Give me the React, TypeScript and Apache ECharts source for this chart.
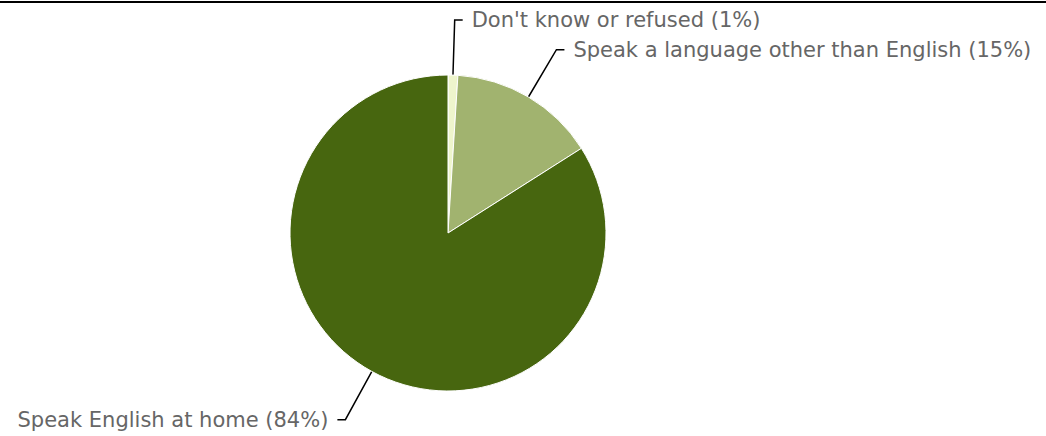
import React, { useEffect, useRef } from "react";
import * as echarts from "echarts";

const categories = [
  "Don't know or refused",
  "Speak a language other than English",
  "Speak English at home",
];
const values = [1, 15, 84];
const colors = ["#eef5cc", "#a1b36f", "#47660f"];

export default function App() {
  const ref = useRef<HTMLDivElement>(null);
  useEffect(() => {
    document.body.style.margin = "0";
    const chart = echarts.init(ref.current!, null, { renderer: "svg" });
    chart.setOption({
      animation: false,
      graphic: [
        {
          type: "rect",
          shape: { x: 0, y: 1, width: 1046, height: 2 },
          style: { fill: "#000" },
        },
      ],
      series: [
        {
          type: "pie",
          center: [448, 233],
          radius: 158,
          startAngle: 90,
          clockwise: true,
          avoidLabelOverlap: false,
          data: categories.map((c, i) => ({
            name: c,
            value: values[i],
            itemStyle: { color: colors[i] },
          })),
          itemStyle: { borderColor: "#ffffff", borderWidth: 1 },
          label: {
            show: true,
            formatter: "{b} ({c}%)",
            color: "#666666",
            fontSize: 21,
            fontFamily: "DejaVu Sans",
            distanceToLabelLine: 9,
          },
          labelLine: {
            show: true,
            length: 55,
            length2: 8,
            lineStyle: { color: "#000", width: 1.5 },
          },
          emphasis: { disabled: true },
        },
      ],
    });
    return () => chart.dispose();
  }, []);
  return <div ref={ref} style={{ width: 1046, height: 436 }} />;
}
